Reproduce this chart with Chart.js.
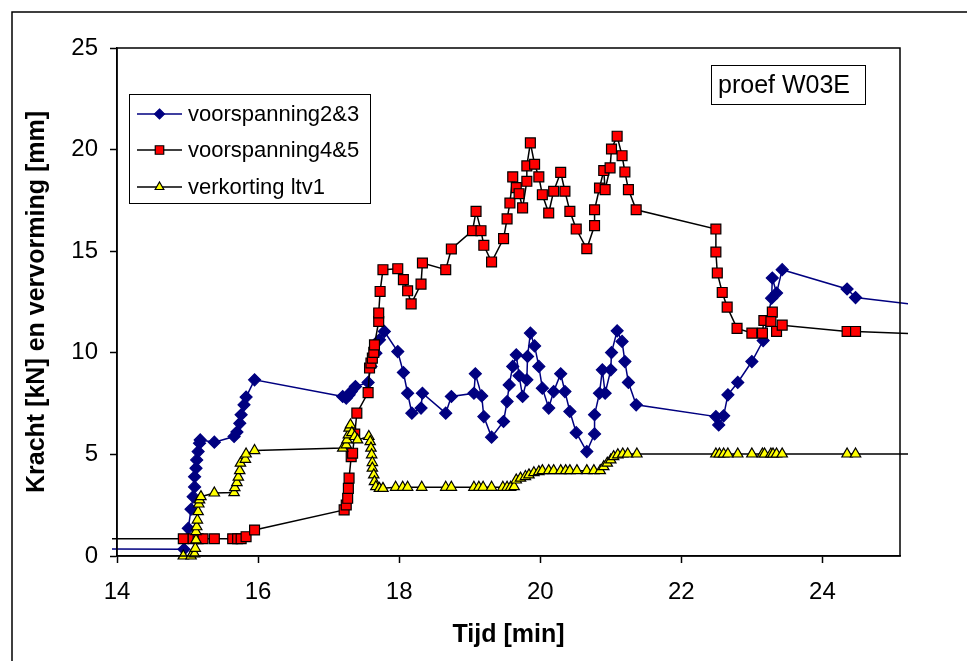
<!DOCTYPE html>
<html>
<head>
<meta charset="utf-8">
<script src="https://cdn.jsdelivr.net/npm/chart.js@4.4.0/dist/chart.umd.min.js"></script>
<style>
html, body { margin: 0; padding: 0; background: #fff; }
canvas { display: block; }
</style>
</head>
<body>
<canvas id="chart" width="967" height="661"></canvas>
<script>
const seriesNames = ['voorspanning2&3', 'voorspanning4&5', 'verkorting ltv1'];
const xTicks = [14, 16, 18, 20, 22, 24];
const yTicks = [0, 5, 10, 15, 20, 25];
const boxLabel = 'proef W03E';

// voorspanning2&3
const tijd1 = [13.0, 14.95, 15.01, 15.05, 15.08, 15.10, 15.10, 15.12, 15.13, 15.15, 15.17, 15.18,
  15.38, 15.66, 15.70, 15.74, 15.76, 15.80, 15.83, 15.95,
  17.20, 17.25, 17.29, 17.32, 17.38, 17.56, 17.60, 17.67, 17.72, 17.79,
  17.98, 18.06, 18.12, 18.18, 18.31, 18.33, 18.66, 18.74, 19.06, 19.08, 19.17, 19.20, 19.31,
  19.48, 19.53, 19.56, 19.61, 19.66, 19.70, 19.75, 19.81, 19.82, 19.86, 19.92, 19.98,
  20.03, 20.12, 20.19, 20.29, 20.35, 20.42, 20.51, 20.66, 20.77, 20.77, 20.84, 20.88, 20.92,
  21.00, 21.01, 21.09, 21.16, 21.20, 21.25, 21.36,
  22.49, 22.53, 22.60, 22.66, 22.80, 23.00, 23.16, 23.28, 23.29, 23.35, 23.43, 24.35, 24.47, 26.0];
const kracht1 = [0.35, 0.33, 1.36, 2.3, 2.92, 3.4, 3.9, 4.32, 4.73, 5.14, 5.55, 5.71,
  5.6, 5.88, 6.1, 6.53, 6.95, 7.44, 7.82, 8.67,
  7.85, 7.77, 7.93, 8.09, 8.34, 8.54, 9.33, 9.98, 10.64, 11.05,
  10.06, 9.03, 8.01, 7.03, 7.28, 8.01, 7.03, 7.85, 8.01, 8.97, 7.88, 6.86, 5.85,
  6.62, 7.6, 8.42, 9.33, 9.9, 8.87, 7.85, 8.67, 9.82, 10.97, 10.34, 9.33,
  8.26, 7.28, 8.09, 8.97, 8.09, 7.11, 6.07, 5.14, 6.01, 6.95, 8.01, 9.16, 8.01,
  9.16, 10.01, 11.08, 10.56, 9.57, 8.54, 7.44,
  6.86, 6.45, 6.9, 7.93, 8.54, 9.57, 10.6, 12.69, 13.68, 12.94, 14.09, 13.14, 12.72, 12.1];

// voorspanning4&5
const tijd2 = [13.0, 14.94, 15.08, 15.15, 15.22, 15.38, 15.64, 15.71, 15.76, 15.83, 15.95,
  17.22, 17.25, 17.27, 17.28, 17.29, 17.32, 17.34, 17.37, 17.40, 17.56, 17.58, 17.60, 17.62, 17.64,
  17.65, 17.71, 17.71, 17.73, 17.77, 17.98, 18.06, 18.12, 18.17, 18.31, 18.33, 18.66, 18.74,
  19.04, 19.09, 19.16, 19.20, 19.31, 19.48, 19.53, 19.57, 19.61, 19.66, 19.70, 19.75, 19.81, 19.81,
  19.86, 19.92, 19.98, 20.03, 20.12, 20.19, 20.29, 20.35, 20.42, 20.51, 20.66, 20.77, 20.77,
  20.84, 20.90, 20.92, 20.99, 21.01, 21.09, 21.16, 21.20, 21.25, 21.36,
  22.49, 22.49, 22.51, 22.58, 22.65, 22.79, 23.00, 23.15, 23.17, 23.29, 23.27, 23.35, 23.43,
  24.35, 24.47, 26.0];
const kracht2 = [0.85, 0.85, 0.85, 0.85, 0.85, 0.85, 0.85, 0.85, 0.85, 0.95, 1.28,
  2.27, 2.51, 2.84, 3.33, 3.83, 4.89, 5.06, 6.0, 7.03, 8.04, 9.25, 9.5, 9.74, 10.02,
  10.39, 11.54, 11.96, 13.02, 14.09, 14.14, 13.6, 13.05, 12.41, 13.38, 14.42, 14.09, 15.11,
  16.01, 16.96, 16.01, 15.29, 14.47, 15.62, 16.59, 17.37, 18.66, 18.13, 17.83, 17.13, 18.44, 19.2,
  20.33, 19.28, 18.66, 17.78, 16.88, 17.95, 18.88, 17.95, 16.96, 16.09, 15.12, 16.26, 17.04,
  18.11, 18.97, 18.03, 19.1, 20.03, 20.66, 19.7, 18.9, 18.03, 17.04,
  16.09, 14.96, 13.93, 12.97, 12.25, 11.2, 10.97, 10.97, 11.59, 12.0, 11.54, 11.05, 11.36,
  11.05, 11.05, 10.85];

// verkorting ltv1
const tijd3 = [14.94, 15.05, 15.10, 15.11, 15.12, 15.12, 15.13, 15.14, 15.15, 15.16, 15.17, 15.19,
  15.38, 15.66, 15.67, 15.70, 15.72, 15.74, 15.75, 15.82, 15.83, 15.95,
  17.20, 17.25, 17.26, 17.28, 17.29, 17.31, 17.33, 17.37, 17.41, 17.57, 17.59, 17.60, 17.61,
  17.62, 17.62, 17.64, 17.65, 17.67, 17.72, 17.77, 17.95, 18.05, 18.12, 18.32, 18.66, 18.74,
  19.06, 19.13, 19.19, 19.31, 19.47, 19.53, 19.58, 19.63, 19.66, 19.72, 19.79, 19.84, 19.91,
  19.98, 20.03, 20.12, 20.19, 20.29, 20.36, 20.42, 20.52, 20.66, 20.76, 20.85, 20.90, 20.95,
  21.00, 21.04, 21.10, 21.17, 21.24, 21.37, 22.49, 22.54, 22.60, 22.66, 22.80, 23.00, 23.15,
  23.18, 23.27, 23.30, 23.35, 23.43, 24.35, 24.47, 26.0];
const verkorting3 = [0, 0, 0.1, 0.38, 0.79, 1.2, 1.44, 1.77, 2.18, 2.56, 2.76, 2.92,
  3.1, 3.12, 3.36, 3.61, 3.88, 4.2, 4.57, 4.76, 5.02, 5.19,
  5.31, 5.47, 5.71, 5.96, 6.29, 6.45, 6.07, 5.88, 5.71, 5.88, 5.63, 5.31, 4.98,
  4.6, 4.32, 3.99, 3.66, 3.41, 3.33, 3.33, 3.38, 3.38, 3.38, 3.38, 3.38, 3.38,
  3.38, 3.38, 3.38, 3.38, 3.38, 3.38, 3.38, 3.41, 3.74, 3.83, 3.91, 3.99, 4.1,
  4.15, 4.2, 4.2, 4.2, 4.2, 4.2, 4.2, 4.2, 4.2, 4.2, 4.2, 4.4, 4.57,
  4.73, 4.89, 4.98, 5.02, 5.02, 5.02, 5.02, 5.02, 5.02, 5.02, 5.02, 5.02, 5.02,
  5.02, 5.02, 5.02, 5.02, 5.02, 5.02, 5.02, 5.02];

const pts = (xs, ys) => xs.map((x, i) => ({ x: x, y: ys[i] }));

const FONT = 'Liberation Sans, Arial, sans-serif';
const colors = ['#000080', '#000000', '#000000'];
const fills = ['#000080', '#ff0000', '#ffff00'];
const shapes = ['rectRot', 'rect', 'triangle'];
const radii = [6, 7, 6];

function marker(ctx, shape, x, y, r, fill, stroke) {
  ctx.save();
  ctx.fillStyle = fill;
  ctx.strokeStyle = stroke;
  ctx.lineWidth = 1.2;
  ctx.beginPath();
  if (shape === 'rect') {
    const s = r * Math.SQRT1_2;
    ctx.rect(x - s, y - s, 2 * s, 2 * s);
  } else if (shape === 'rectRot') {
    ctx.moveTo(x, y - r); ctx.lineTo(x + r, y); ctx.lineTo(x, y + r); ctx.lineTo(x - r, y);
    ctx.closePath();
  } else {
    ctx.moveTo(x, y - r);
    ctx.lineTo(x + r * 0.866, y + r / 2);
    ctx.lineTo(x - r * 0.866, y + r / 2);
    ctx.closePath();
  }
  ctx.fill();
  ctx.stroke();
  ctx.restore();
}

const decor = {
  id: 'decor',
  beforeDraw(chart) {
    const ctx = chart.ctx;
    ctx.save();
    ctx.fillStyle = '#fff';
    ctx.fillRect(0, 0, chart.width, chart.height);
    ctx.strokeStyle = '#000';
    ctx.lineWidth = 1.5;
    ctx.beginPath();
    ctx.moveTo(12, chart.height);
    ctx.lineTo(12, 12);
    ctx.lineTo(chart.width, 12);
    ctx.stroke();
    ctx.restore();
  },
  afterDatasetsDraw(chart) {
    const ctx = chart.ctx;
    const a = chart.chartArea;
    ctx.save();
    ctx.strokeStyle = '#000';
    ctx.lineWidth = 1.5;
    ctx.strokeRect(a.left, a.top, a.right - a.left, a.bottom - a.top);

    // legend
    ctx.fillStyle = '#fff';
    ctx.fillRect(129, 94, 241, 109);
    ctx.lineWidth = 1;
    ctx.strokeRect(129.5, 94.5, 241, 109);
    const rows = [114, 150, 187];
    ctx.font = '22px ' + FONT;
    ctx.textBaseline = 'middle';
    seriesNames.forEach((name, i) => {
      ctx.strokeStyle = colors[i];
      ctx.lineWidth = 1.5;
      ctx.beginPath();
      ctx.moveTo(137, rows[i]);
      ctx.lineTo(182, rows[i]);
      ctx.stroke();
      marker(ctx, shapes[i], 159.5, rows[i], i === 1 ? 6 : 5, fills[i], colors[i]);
      ctx.fillStyle = '#000';
      ctx.fillText(name, 188, rows[i] + 1);
    });

    // label box
    ctx.fillStyle = '#fff';
    ctx.fillRect(711, 65, 154, 39);
    ctx.strokeStyle = '#000';
    ctx.lineWidth = 1;
    ctx.strokeRect(711.5, 65.5, 154, 39);
    ctx.fillStyle = '#000';
    ctx.font = '25px ' + FONT;
    ctx.fillText(boxLabel, 718, 86);
    ctx.restore();
  }
};

const datasets = [
  { data: pts(tijd1, kracht1) },
  { data: pts(tijd2, kracht2) },
  { data: pts(tijd3, verkorting3) }
].map((d, i) => Object.assign(d, {
  label: seriesNames[i],
  showLine: true,
  borderColor: colors[i],
  borderWidth: 1.5,
  backgroundColor: fills[i],
  pointStyle: shapes[i],
  pointRadius: radii[i],
  pointBackgroundColor: fills[i],
  pointBorderColor: colors[i],
  pointBorderWidth: 1.2,
  tension: 0,
  order: 2 - i,
  clip: { left: 5, top: 12, right: 8, bottom: 12 }
}));

new Chart(document.getElementById('chart'), {
  type: 'scatter',
  data: { datasets: datasets },
  plugins: [decor],
  options: {
    responsive: false,
    animation: false,
    devicePixelRatio: 1,
    layout: { padding: { left: 12, top: 48, right: 67, bottom: 0 } },
    plugins: { legend: { display: false }, tooltip: { enabled: false } },
    scales: {
      x: {
        type: 'linear',
        min: 14,
        max: 25.1,
        afterFit: s => { s.height = 105; },
        afterBuildTicks: s => { s.ticks = xTicks.map(v => ({ value: v })); },
        grid: { drawOnChartArea: false, tickLength: 7, color: '#000', tickWidth: 1.5 },
        border: { color: '#000', width: 1.5 },
        ticks: { color: '#000', padding: 15, font: { family: FONT, size: 24 } },
        title: {
          display: true, text: 'Tijd [min]', color: '#000',
          font: { family: FONT, size: 25, weight: 'bold' },
          padding: { top: 0, bottom: 11 }
        }
      },
      y: {
        min: 0,
        max: 25,
        afterFit: s => { s.width = 105; },
        afterBuildTicks: s => { s.ticks = yTicks.map(v => ({ value: v })); },
        grid: { drawOnChartArea: false, tickLength: 7, color: '#000', tickWidth: 1.5 },
        border: { color: '#000', width: 1.5 },
        ticks: { color: '#000', padding: 12, font: { family: FONT, size: 24 } },
        title: {
          display: true, text: 'Kracht [kN] en vervorming [mm]', color: '#000',
          font: { family: FONT, size: 25, weight: 'bold' },
          padding: { top: 10, bottom: 0 }
        }
      }
    }
  }
});
</script>
</body>
</html>
